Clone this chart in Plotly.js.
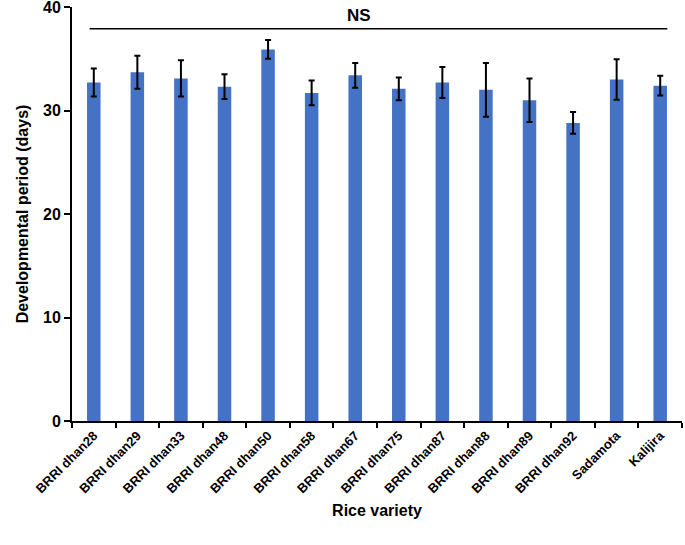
<!DOCTYPE html>
<html><head><meta charset="utf-8">
<script src="https://cdn.plot.ly/plotly-3.0.1.min.js"></script>
<style>html,body{margin:0;padding:0;background:#fff}#chart{width:685px;height:545px}</style>
</head><body><div id="chart"></div>
<script>
const varieties = ["BRRI dhan28","BRRI dhan29","BRRI dhan33","BRRI dhan48","BRRI dhan50","BRRI dhan58","BRRI dhan67","BRRI dhan75","BRRI dhan87","BRRI dhan88","BRRI dhan89","BRRI dhan92","Sadamota","Kalijira"];
const devPeriod = [32.7, 33.7, 33.1, 32.3, 35.9, 31.7, 33.4, 32.1, 32.7, 32.0, 31.0, 28.8, 33.0, 32.4];
const stdErr = [1.35, 1.6, 1.75, 1.2, 0.9, 1.2, 1.2, 1.1, 1.5, 2.6, 2.1, 1.05, 1.95, 0.95];
const yTicks = [0, 10, 20, 30, 40];
const sigLabel = "NS";

const F = "Liberation Sans, Arial, sans-serif";
const trace = {
  type: "bar", x: varieties, y: devPeriod,
  marker: {color: "#4472C4"},
  error_y: {type: "data", array: stdErr, visible: true, color: "#000", thickness: 2, width: 3},
  hoverinfo: "none"
};
const layout = {
  width: 685, height: 545,
  margin: {l: 72, r: 3, t: 7, b: 124},
  paper_bgcolor: "#fff", plot_bgcolor: "#fff",
  bargap: 0.69,
  showlegend: false,
  font: {family: F, color: "#000"},
  xaxis: {
    type: "category", tickangle: -45, tickson: "boundaries", ticks: "outside", ticklen: 5, tickwidth: 2, tickcolor: "#000",
    showline: true, linecolor: "#000", linewidth: 2, showgrid: false, zeroline: false, automargin: false,
    tickfont: {family: F, size: 13, weight: "bold", color: "#000"},
    title: {text: "Rice variety", font: {family: F, size: 16, weight: "bold", color: "#000"}, standoff: 10}
  },
  yaxis: {
    range: [0, 40], tickvals: yTicks, ticks: "outside", ticklen: 6, tickwidth: 2, tickcolor: "#000", ticklabeloverflow: "allow",
    showline: true, linecolor: "#000", linewidth: 2, showgrid: false, zeroline: false, automargin: false,
    tickfont: {family: F, size: 16, weight: "bold", color: "#000"},
    title: {text: "Developmental period (days)", font: {family: F, size: 16, weight: "bold", color: "#000"}, standoff: 10}
  },
  shapes: [{type: "line", xref: "paper", yref: "y", x0: 0.029, x1: 0.976, y0: 37.9, y1: 37.9, line: {color: "#000", width: 1.5}}],
  annotations: [{text: sigLabel, xref: "paper", yref: "y", x: 0.47, y: 37.9, yanchor: "bottom", yshift: 2, showarrow: false, font: {family: F, size: 17, weight: "bold", color: "#000"}}]
};
Plotly.newPlot("chart", [trace], layout, {displayModeBar: false, staticPlot: true});
</script></body></html>
